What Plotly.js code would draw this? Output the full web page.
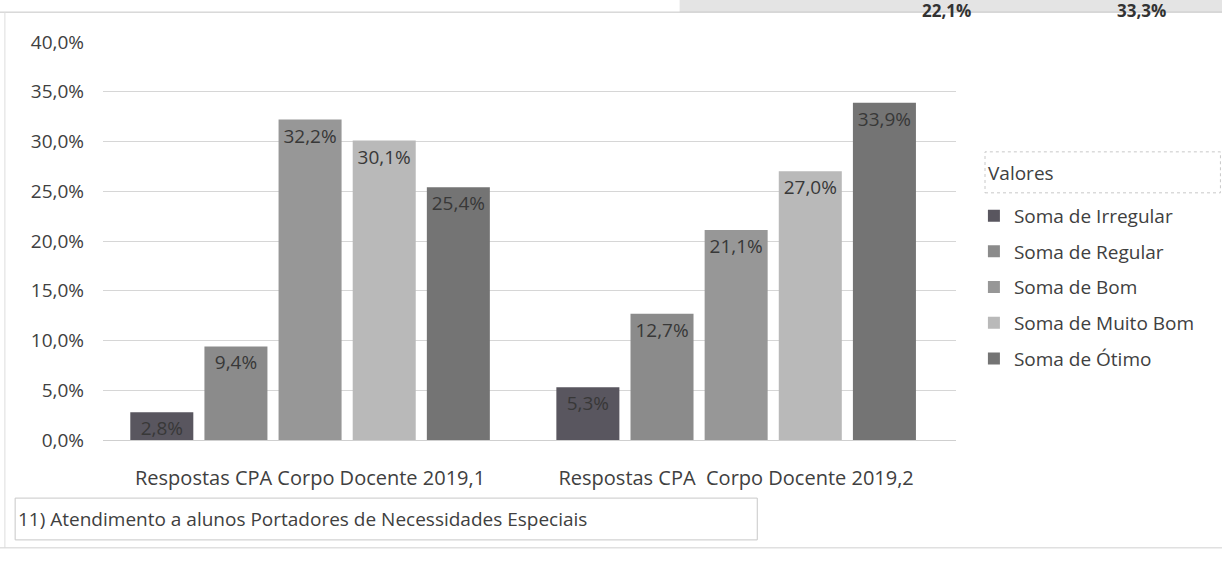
<!DOCTYPE html>
<html>
<head>
<meta charset="utf-8">
<script src="https://cdn.plot.ly/plotly-3.0.1.min.js"></script>
<style>
html,body{margin:0;padding:0;background:#fff;}
#chart{width:1222px;height:577px;}
</style>
</head>
<body>
<div id="chart"></div>
<script>
// ---- data ----
const categories = ["Respostas CPA Corpo Docente 2019,1", "Respostas CPA\u00a0 Corpo Docente 2019,2"];
const seriesNames = ["Soma de Irregular", "Soma de Regular", "Soma de Bom", "Soma de Muito Bom", "Soma de Ótimo"];
const irregular = [2.8, 5.3];
const regular   = [9.4, 12.7];
const bom       = [32.2, 21.1];
const muitoBom  = [30.1, 27.0];
const otimo     = [25.4, 33.9];
const yTicks = [0, 5, 10, 15, 20, 25, 30, 35, 40];
const chartCaption = "11) Atendimento a alunos Portadores de Necessidades Especiais";
const legendHeading = "Valores";
const topFragments = ["22,1%", "33,3%"];

// ---- styles ----
const colors = ["#59565f", "#8b8b8b", "#979797", "#b9b9b9", "#747474"];
const fontFam = "Open Sans, Noto Sans, sans-serif";
const seriesValues = [irregular, regular, bom, muitoBom, otimo];

const fmt = v => v.toFixed(1).replace('.', ',') + '%';

const traces = seriesValues.map((vals, i) => ({
  type: 'bar',
  name: seriesNames[i],
  x: categories,
  y: vals,
  text: vals.map(fmt),
  textposition: 'inside',
  insidetextanchor: 'end',
  constraintext: 'none',
  textangle: 0,
  textfont: {family: fontFam, size: 19, color: '#383838'},
  marker: {color: colors[i], line: {width: 0}},
  legendgroup: 'g' + i,
  hoverinfo: 'skip'
}));

const layout = {
  width: 1222, height: 577,
  margin: {l: 103, r: 266, t: 42, b: 137},
  paper_bgcolor: '#ffffff',
  plot_bgcolor: '#ffffff',
  separators: ',.',
  barmode: 'group',
  bargap: 0.13,
  bargroupgap: 0.15,
  font: {family: fontFam, color: '#404040'},
  showlegend: true,
  legend: {
    x: 1.021, xanchor: 'left',
    y: 0.611, yanchor: 'top',
    font: {family: fontFam, size: 19, color: '#404040'},
    traceorder: 'grouped',
    tracegroupgap: 8,
    itemwidth: 30,
    bgcolor: 'rgba(0,0,0,0)'
  },
  xaxis: {
    type: 'category',
    range: [-0.486, 1.516],
    showgrid: false,
    zeroline: false,
    showline: false,
    ticks: '',
    ticklabelstandoff: 24,
    tickfont: {family: fontFam, size: 20, color: '#404040'}
  },
  yaxis: {
    range: [0, 40],
    tickvals: yTicks,
    ticktext: yTicks.map(fmt),
    showgrid: true,
    gridcolor: '#d6d6d6',
    gridwidth: 1,
    zeroline: true,
    zerolinecolor: '#cfcfcf',
    showline: false,
    ticks: '',
    ticklabelstandoff: 18,
    tickfont: {family: fontFam, size: 19, color: '#404040'}
  },
  shapes: [
    // legend heading box
    {type: 'rect', xref: 'paper', yref: 'paper', x0: 1.034, x1: 1.31, y0: 0.621, y1: 0.724,
     line: {color: '#c8c8c8', width: 1, dash: 'dot'}},
    // caption box
    {type: 'rect', xref: 'paper', yref: 'paper', x0: -0.103, x1: 0.767, y0: -0.251, y1: -0.146,
     line: {color: '#c8c8c8', width: 1}},
    // top scanned table band
    {type: 'rect', xref: 'paper', yref: 'paper', x0: 0.676, x1: 1.32, y0: 1.075, y1: 1.11,
     fillcolor: '#e4e4e4', line: {width: 0}},
    {type: 'line', xref: 'paper', yref: 'paper', x0: -0.125, x1: 1.32, y0: 1.075, y1: 1.075,
     line: {color: '#c4c4c4', width: 1}},
    // outer frame lines
    {type: 'line', xref: 'paper', yref: 'paper', x0: -0.115, x1: -0.115, y0: -0.27, y1: 1.075,
     line: {color: '#dddddd', width: 1}},
    {type: 'line', xref: 'paper', yref: 'paper', x0: -0.125, x1: 1.32, y0: -0.271, y1: -0.271,
     line: {color: '#d0d0d0', width: 1}}
  ],
  annotations: [
    {xref: 'paper', yref: 'paper', x: 1.034, y: 0.671, xanchor: 'left', yanchor: 'middle',
     text: legendHeading, showarrow: false, xshift: 1,
     font: {family: fontFam, size: 19, color: '#404040'}},
    {xref: 'paper', yref: 'paper', x: -0.103, y: -0.198, xanchor: 'left', yanchor: 'middle',
     text: chartCaption, showarrow: false, xshift: 1,
     font: {family: fontFam, size: 19, color: '#404040'}},
    {xref: 'paper', yref: 'paper', x: 0.989, y: 1.1055, xanchor: 'center', yanchor: 'top',
     text: '<b>' + topFragments[0] + '</b>', showarrow: false, yshift: 3,
     font: {family: fontFam, size: 17, color: '#333'}},
    {xref: 'paper', yref: 'paper', x: 1.218, y: 1.1055, xanchor: 'center', yanchor: 'top',
     text: '<b>' + topFragments[1] + '</b>', showarrow: false, yshift: 3,
     font: {family: fontFam, size: 17, color: '#333'}}
  ]
};

Plotly.newPlot('chart', traces, layout, {displayModeBar: false, staticPlot: true});
</script>
</body>
</html>
